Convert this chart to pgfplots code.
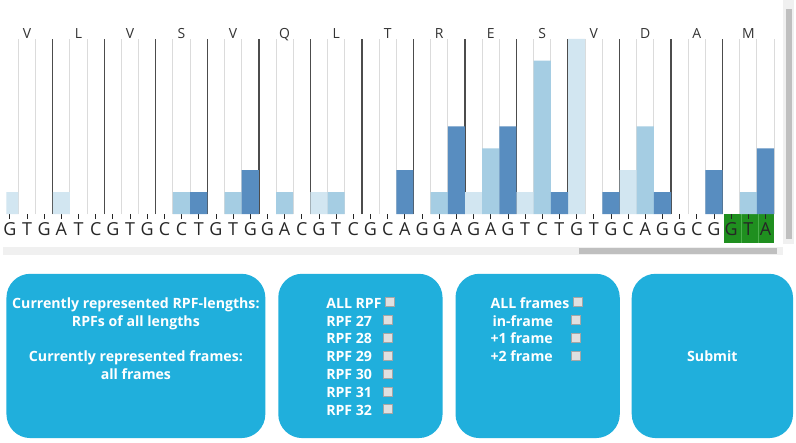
\documentclass[border=0pt]{standalone}
\usepackage{fontspec}
\setmainfont{Open Sans}
\usepackage{pgfplots}
\pgfplotsset{compat=1.18}
\definecolor{lb}{HTML}{D2E6F1}
\definecolor{mb}{HTML}{A5CDE3}
\definecolor{db}{HTML}{588DC0}
\definecolor{gr}{HTML}{1F8F1F}
\definecolor{cy}{HTML}{20AFDC}
\begin{document}
\begin{tikzpicture}
\begin{scope}[x=1bp,y=1bp]
\fill[white] (0,0) rectangle (796,444);
% green background of the start codon
\fill[gr] (723.75,200) rectangle (774,229);
\draw[green!55!black!70!white, line width=0.6bp] (741,200) -- (741,229) (758.25,200) -- (758.25,229);
\end{scope}
\begin{axis}[
  at={(3bp,229bp)}, anchor=south west,
  width=771bp, height=176bp, scale only axis,
  xmin=0.804, xmax=45.5, ymin=0, ymax=8,
  axis line style={draw=none},
  ytick=\empty,
  xtick={1,...,45},
  xticklabels={G,T,G,A,T,C,G,T,G,C,C,T,G,T,G,G,A,C,G,T,C,G,C,A,G,G,A,G,A,G,T,C,T,G,T,G,C,A,G,G,C,G,G,T,A},
  xtick pos=bottom, tick align=outside,
  major tick length=5bp,
  x tick style={black!85, line width=0.8bp},
  minor xtick={0.5,1.5,...,45.5},
  minor tick length=0pt,
  xminorgrids,
  minor grid style={black!14, line width=1bp},
  extra x ticks={3.5,6.5,...,42.5},
  extra x tick labels={},
  extra x tick style={grid=major, major grid style={black!70, line width=1.3bp}, major tick length=0pt},
  xticklabel style={font=\fontsize{18bp}{18bp}\selectfont, text=black!85, anchor=base, yshift=-17bp},
]
\addplot[ybar, bar width=1, fill=lb, draw=none] coordinates {(1,1) (4,1) (19,1) (28,1) (31,1) (34,8) (37,2)};
\addplot[ybar, bar width=1, fill=mb, draw=none] coordinates {(11,1) (14,1) (17,1) (20,1) (26,1) (29,3) (32,7) (38,4) (44,1)};
\addplot[ybar, bar width=1, fill=db, draw=none] coordinates {(12,1) (15,2) (24,2) (27,4) (30,4) (33,1) (36,1) (39,1) (42,2) (45,3)};
\end{axis}
\begin{scope}[x=1bp,y=1bp]
% amino acids
\foreach \aa [count=\i] in {V,L,V,S,V,Q,L,T,R,E,S,V,D,A,M} {
  \pgfmathsetmacro\xx{15+17.25*(3*\i-2.5)}
  \node[anchor=base, inner sep=0pt, font=\fontsize{14bp}{14bp}\selectfont, text=black!80] at (\xx,405) {\aa};
}
% scrollbars
\fill[black!6] (0,188) rectangle (783,196);
\fill[black!25] (578,189) rectangle (777,195);
\fill[black!6] (783,199) rectangle (794,444);
\fill[black!25] (786,204) rectangle (792,435);
% boxes
\fill[cy, rounded corners=24bp] (3,4) rectangle (263,169);
\fill[cy, rounded corners=24bp] (276,4) rectangle (441,169);
\fill[cy, rounded corners=24bp] (454,4) rectangle (619,169);
\fill[cy, rounded corners=24bp] (631,4) rectangle (793,169);
\tikzset{bt/.style={text=white, inner sep=0pt, font=\bfseries\fontsize{14.2bp}{16bp}\selectfont},
  cb/.style={fill=black!12, draw=black!35, line width=0.5bp}}
\begin{scope}[yshift=-1.5bp]
\node[bt, anchor=base] at (133,136) {Currently represented RPF-lengths:};
\node[bt, anchor=base] at (133,118) {RPFs of all lengths};
\node[bt, anchor=base] at (133,82) {Currently represented frames:};
\node[bt, anchor=base] at (133,64) {all frames};
\node[bt, anchor=base west] at (324,136) {ALL RPF};
\draw[cb] (383,138) rectangle (392,147);
\foreach \t [count=\i] in {27,28,29,30,31,32} {
  \node[bt, anchor=base west] at (324,136-18*\i) {RPF \t};
  \draw[cb] (381,138-18*\i) rectangle (390,147-18*\i);
}
\node[bt, anchor=base west] at (489,136) {ALL frames};
\draw[cb] (572,138) rectangle (581,147);
\node[bt, anchor=base west] at (491,118) {in-frame};
\node[bt, anchor=base west] at (489,100) {+1 frame};
\node[bt, anchor=base west] at (489,82) {+2 frame};
\foreach \i in {1,2,3} {\draw[cb] (570,138-18*\i) rectangle (579,147-18*\i);}
\node[bt, anchor=base] at (712,82) {Submit};
\end{scope}
\end{scope}
\end{tikzpicture}
\end{document}
